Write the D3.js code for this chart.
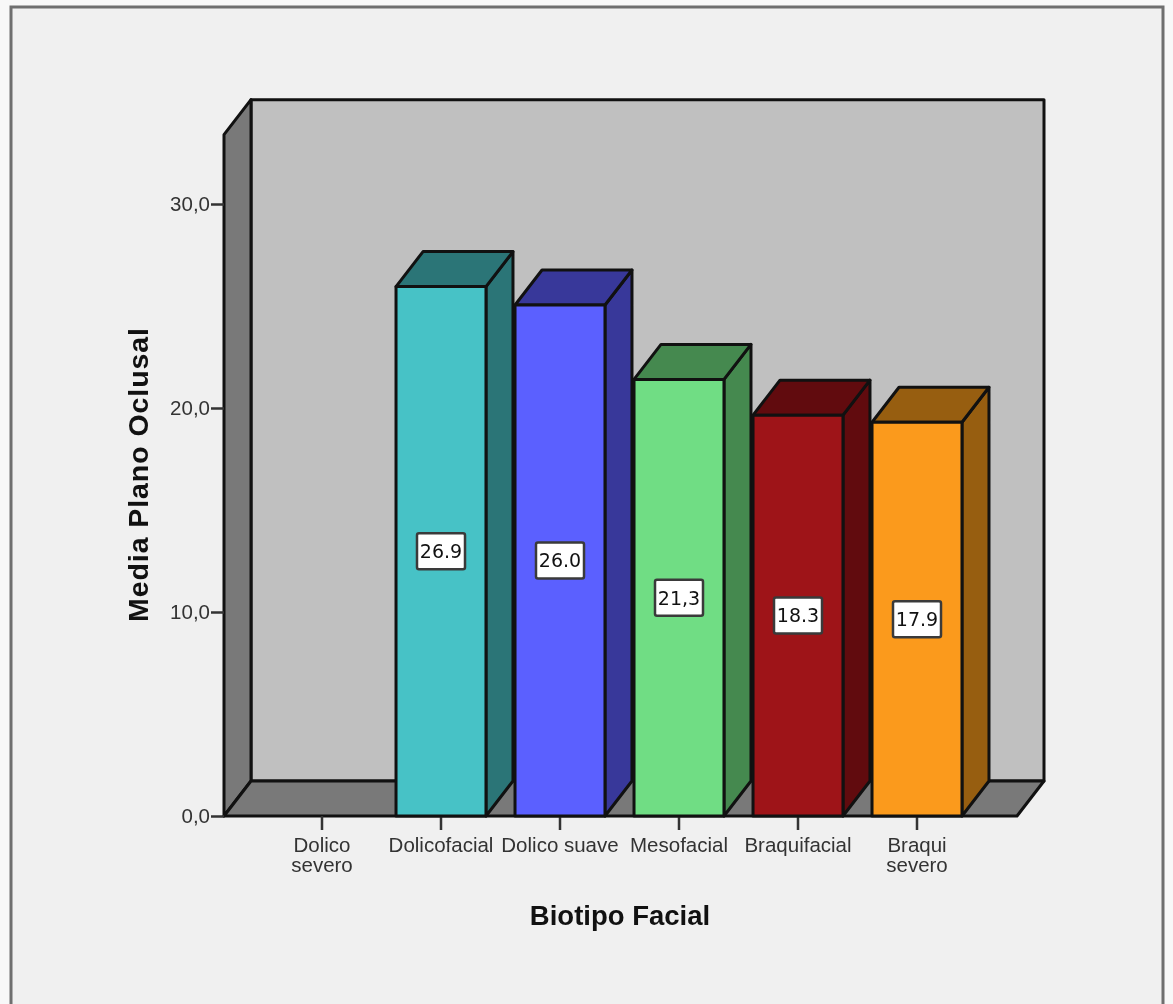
<!DOCTYPE html>
<html>
<head>
<meta charset="utf-8">
<script src="https://cdnjs.cloudflare.com/ajax/libs/d3/7.8.5/d3.min.js"></script>
<style>
  body { margin: 0; background: #f8f8f8; }
  svg { display: block; filter: blur(0.7px); }
  text { font-family: "Liberation Sans", Arial, sans-serif; }
  .tick text { font-size: 20.5px; fill: #333; }
  .tick line { stroke: #333; stroke-width: 2.5px; }
</style>
</head>
<body>
<script>
const width = 1173,
  height = 1004;

// categories, second row of the label is a new line
const categories = ["Dolico severo", "Dolicofacial", "Dolico suave", "Mesofacial", "Braquifacial", "Braqui severo"];
// bar heights as drawn (first category has no bar)
const barValues = [null, 25.95, 25.05, 21.4, 19.65, 19.3];
// the printed labels do not agree with the heights, kept as they are in the picture
const barLabels = ["", "26.9", "26.0", "21,3", "18.3", "17.9"];
const frontColors = ["", "#47c2c6", "#5b60ff", "#70dd84", "#9e1418", "#fb9a1c"];
const sideColors = ["", "#2b7577", "#38389a", "#45894f", "#610b0e", "#975e10"];
const yTicks = [0, 10, 20, 30];
const yTop = 33.4; // top of the back wall

const bars = categories
  .map((c, i) => ({ c, v: barValues[i], label: barLabels[i], front: frontColors[i], side: sideColors[i] }))
  .filter((d) => d.v !== null);

// 3d offset of the box
const depthX = 27,
  depthY = -35;

const y = d3.scaleLinear().domain([0, 30]).range([816, 204]);
const x = d3.scaleBand().domain(categories).range([262.5, 976.5]).paddingInner(0.244).paddingOuter(0.122);

const floorLeft = 224,
  floorRight = 1017;

const svg = d3.select("body").append("svg").attr("width", width).attr("height", height);

// outer frame, runs off the bottom
svg.append("rect")
  .attr("x", 11).attr("y", 7)
  .attr("width", 1152).attr("height", height + 20)
  .attr("fill", "#f0f0f0").attr("stroke", "#6f6f6f").attr("stroke-width", 3);

const poly = (pts) => d3.line()(pts) + "Z";
const wallStroke = (sel) => sel.attr("stroke", "#111").attr("stroke-width", 3).attr("stroke-linejoin", "round");

// back wall
svg.append("path")
  .attr("d", poly([
    [floorLeft + depthX, y(yTop) + depthY],
    [floorRight + depthX, y(yTop) + depthY],
    [floorRight + depthX, y(0) + depthY],
    [floorLeft + depthX, y(0) + depthY],
  ]))
  .attr("fill", "#c0c0c0")
  .call(wallStroke);

// left wall
svg.append("path")
  .attr("d", poly([
    [floorLeft, y(yTop)],
    [floorLeft + depthX, y(yTop) + depthY],
    [floorLeft + depthX, y(0) + depthY],
    [floorLeft, y(0)],
  ]))
  .attr("fill", "#797979")
  .call(wallStroke);

// floor
svg.append("path")
  .attr("d", poly([
    [floorLeft, y(0)],
    [floorLeft + depthX, y(0) + depthY],
    [floorRight + depthX, y(0) + depthY],
    [floorRight, y(0)],
  ]))
  .attr("fill", "#797979")
  .call(wallStroke);

// axes
const yAxis = d3.axisLeft(y)
  .tickValues(yTicks)
  .tickSize(13)
  .tickPadding(1)
  .tickFormat((d) => d3.format(".1f")(d).replace(".", ","));
svg.append("g")
  .attr("transform", `translate(${floorLeft},0)`)
  .call(yAxis)
  .call((g) => g.select(".domain").remove());

const xAxis = d3.axisBottom(x).tickSize(14).tickPadding(6);
svg.append("g")
  .attr("transform", `translate(0,${y(0)})`)
  .call(xAxis)
  .call((g) => g.select(".domain").remove())
  .selectAll(".tick text")
  .each(function (d) {
    // two word names wrap, except Dolico suave which fits
    const words = d === "Dolico suave" ? [d] : d.split(" ");
    const t = d3.select(this).text(null);
    words.forEach((w, i) => {
      t.append("tspan").attr("x", 0).attr("dy", i ? "0.98em" : "0.78em").text(w);
    });
  });

// bars
const bar = svg.selectAll(".bar").data(bars).join("g").attr("class", "bar");

bar.append("path") // side
  .attr("d", (d) => {
    const r = x(d.c) + x.bandwidth();
    return poly([[r, y(d.v)], [r + depthX, y(d.v) + depthY], [r + depthX, y(0) + depthY], [r, y(0)]]);
  })
  .attr("fill", (d) => d.side)
  .call(wallStroke);

bar.append("path") // top
  .attr("d", (d) => {
    const l = x(d.c), r = l + x.bandwidth();
    return poly([[l, y(d.v)], [l + depthX, y(d.v) + depthY], [r + depthX, y(d.v) + depthY], [r, y(d.v)]]);
  })
  .attr("fill", (d) => d.side)
  .call(wallStroke);

bar.append("rect") // front
  .attr("x", (d) => x(d.c))
  .attr("y", (d) => y(d.v))
  .attr("width", x.bandwidth())
  .attr("height", (d) => y(0) - y(d.v))
  .attr("fill", (d) => d.front)
  .call(wallStroke);

// value boxes in the middle of each bar
const boxW = 48,
  boxH = 36;
bar.append("rect")
  .attr("x", (d) => x(d.c) + x.bandwidth() / 2 - boxW / 2)
  .attr("y", (d) => (y(d.v) + y(0)) / 2 - boxH / 2)
  .attr("width", boxW)
  .attr("height", boxH)
  .attr("rx", 2)
  .attr("fill", "#fff")
  .attr("stroke", "#3a3a3a")
  .attr("stroke-width", 2.5);

bar.append("text")
  .attr("x", (d) => x(d.c) + x.bandwidth() / 2)
  .attr("y", (d) => (y(d.v) + y(0)) / 2)
  .attr("dy", "0.36em")
  .attr("text-anchor", "middle")
  .style("font-family", '"DejaVu Sans", sans-serif')
  .style("font-size", "19px")
  .attr("fill", "#111")
  .text((d) => d.label);

// axis titles
svg.append("text")
  .attr("x", 620).attr("y", 925)
  .attr("text-anchor", "middle")
  .style("font-size", "27.5px").style("font-weight", "bold")
  .attr("fill", "#111")
  .text("Biotipo Facial");

svg.append("text")
  .attr("transform", "translate(148,475) rotate(-90)")
  .attr("text-anchor", "middle")
  .style("font-size", "28.5px").style("font-weight", "bold")
  .attr("textLength", 294)
  .attr("fill", "#111")
  .text("Media Plano Oclusal");
</script>
</body>
</html>
